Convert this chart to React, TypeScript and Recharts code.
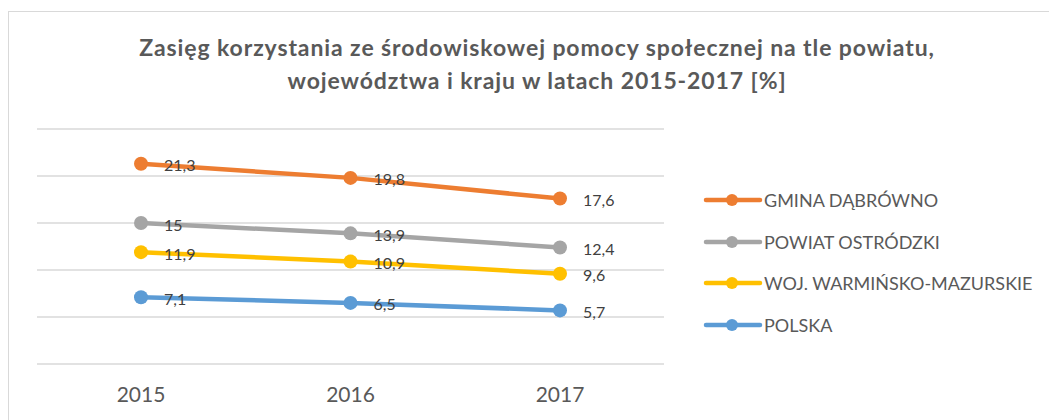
import React from 'react';
import { LineChart, Line, XAxis, YAxis, CartesianGrid, Legend, LabelList } from 'recharts';

const years = ['2015', '2016', '2017'];
const gminaDabrowno = [21.3, 19.8, 17.6];
const powiatOstrodzki = [15, 13.9, 12.4];
const wojWarminsko = [11.9, 10.9, 9.6];
const polska = [7.1, 6.5, 5.7];
const yTicks = [0, 5, 10, 15, 20, 25];

const series = [
  { key: 'gmina', name: 'GMINA DĄBRÓWNO', color: '#ED7D31', values: gminaDabrowno },
  { key: 'powiat', name: 'POWIAT OSTRÓDZKI', color: '#A5A5A5', values: powiatOstrodzki },
  { key: 'woj', name: 'WOJ. WARMIŃSKO-MAZURSKIE', color: '#FFC000', values: wojWarminsko },
  { key: 'polska', name: 'POLSKA', color: '#5B9BD5', values: polska },
];

const data = years.map((year, i) => {
  const row: Record<string, any> = { year };
  series.forEach((s) => {
    row[s.key] = s.values[i];
  });
  return row;
});

const FONT = 'Lato, "Open Sans", sans-serif';

const renderLabel = (props: any) => {
  const { x, y, value } = props;
  return (
    <text
      x={x + 23}
      y={y + 1}
      dominantBaseline="central"
      fontFamily={FONT}
      fontSize={16}
      fill="#404040"
    >
      {String(value).replace('.', ',')}
    </text>
  );
};

const renderTick = (props: any) => {
  const { x, y, payload } = props;
  return (
    <text x={x} y={y} dy={30} textAnchor="middle" fontFamily={FONT} fontSize={21} fill="#595959">
      {payload.value}
    </text>
  );
};

const renderLegend = () => (
  <div style={{ fontFamily: FONT }}>
    {series.map((s) => (
      <div key={s.key} style={{ display: 'flex', alignItems: 'center', height: 41.7 }}>
        <svg width={60} height={16} style={{ display: 'block' }}>
          <line x1={3} y1={8} x2={57} y2={8} stroke={s.color} strokeWidth={4.5} strokeLinecap="round" />
          <circle cx={29} cy={8} r={6} fill={s.color} />
        </svg>
        <span style={{ fontSize: 18, color: '#595959', marginLeft: 1, whiteSpace: 'nowrap' }}>{s.name}</span>
      </div>
    ))}
  </div>
);

export default function App() {
  return (
    <div
      style={{
        position: 'absolute',
        left: 0,
        top: 0,
        width: 1049,
        height: 420,
        background: '#fff',
        overflow: 'hidden',
      }}
    >
      <div
        style={{
          position: 'absolute',
          left: 8,
          top: 11,
          width: 1200,
          height: 600,
          border: '1px solid #D9D9D9',
          boxSizing: 'border-box',
        }}
      />
      <div
        style={{
          position: 'absolute',
          left: 0,
          top: 31,
          width: 1074,
          textAlign: 'center',
          fontFamily: FONT,
          fontWeight: 700,
          fontSize: 23,
          letterSpacing: 0.9,
          lineHeight: '33px',
          color: '#595959',
        }}
      >
        Zasięg korzystania ze środowiskowej pomocy społecznej na tle powiatu,
        <br />
        województwa i kraju w latach 2015-2017 [%]
      </div>
      <div style={{ position: 'absolute', left: 0, top: 0 }}>
        <LineChart
          width={1049}
          height={420}
          data={data}
          margin={{ top: 129, right: 385, bottom: 26, left: 37 }}
        >
          <CartesianGrid vertical={false} stroke="#D9D9D9" strokeWidth={1.5} />
          <XAxis
            dataKey="year"
            axisLine={false}
            tickLine={false}
            height={30}
            padding={{ left: 104, right: 104 }}
            tick={renderTick}
            interval={0}
          />
          <YAxis hide domain={[0, 25]} ticks={yTicks} type="number" />
          {series.map((s) => (
            <Line
              key={s.key}
              dataKey={s.key}
              name={s.name}
              stroke={s.color}
              strokeWidth={4.5}
              dot={{ r: 7, fill: s.color, stroke: s.color, strokeWidth: 0 }}
              isAnimationActive={false}
            >
              <LabelList dataKey={s.key} content={renderLabel} />
            </Line>
          ))}
          <Legend
            layout="horizontal"
            verticalAlign="middle"
            align="center"
            width={340}
            content={renderLegend}
            wrapperStyle={{ position: 'absolute', left: 703, top: 179, width: 340 }}
          />
        </LineChart>
      </div>
    </div>
  );
}
